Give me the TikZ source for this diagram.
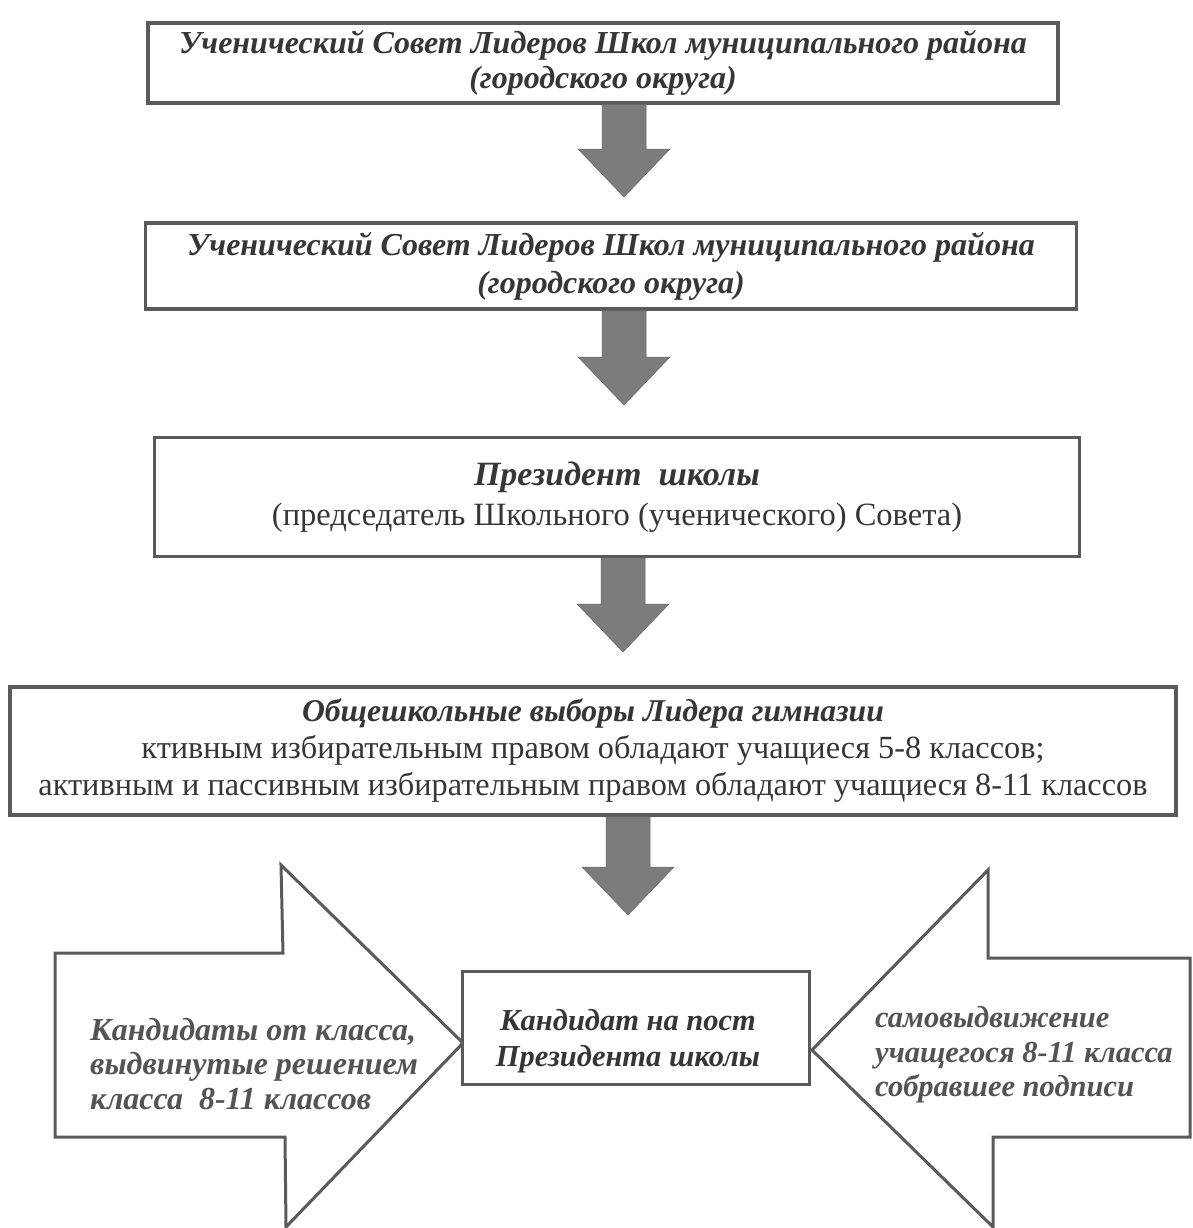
\documentclass[tikz,border=0pt]{standalone}
\usepackage{fontspec}
\setmainfont{Liberation Serif}
\usetikzlibrary{calc}

\definecolor{framegray}{HTML}{5A5A5A}
\definecolor{arrowgray}{HTML}{7C7C7C}
\definecolor{inkgray}{HTML}{363636}

\begin{document}
\begin{tikzpicture}[x=1pt,y=-1pt,
  box/.style={draw=framegray,line width=3.5pt,fill=white,text=inkgray,align=center,inner sep=0pt},
  down arrow/.style={fill=arrowgray,draw=arrowgray!85!black,line width=0.5pt,
    to path={let \p1=(\tikztostart), \p2=(\tikztotarget) in
      (\x2-22,\y1) -- (\x2+22,\y1) -- (\x2+22,\y2+48) -- (\x2+46,\y2+48)
      -- (\tikztotarget) -- (\x2-46,\y2+48) -- (\x2-22,\y2+48) -- cycle}},
  big arrow/.style={draw=framegray,line width=3pt,fill=white,line join=miter},
  side text/.style={text=inkgray!85,align=left,inner sep=0pt,
    font=\fontsize{32}{34.5}\selectfont\bfseries\itshape}]

  \useasboundingbox (0,0) rectangle (1192,1228);

  % levels
  \node[box,minimum width=910,minimum height=80,
    font=\fontsize{32}{35}\selectfont\bfseries\itshape] (sovet1) at (603,63)
    {Ученический Совет Лидеров Школ муниципального района\\(городского округа)};
  \node[box,minimum width=931,minimum height=86,
    font=\fontsize{32}{38}\selectfont\bfseries\itshape] (sovet2) at (611,266)
    {Ученический Совет Лидеров Школ муниципального района\\(городского округа)};
  \node[box,minimum width=925,minimum height=119,
    font=\fontsize{32.5}{40}\selectfont] (prez) at (617,497)
    {{\fontsize{34}{40}\selectfont\bfseries\itshape Президент\ \ школы}\\
     (председатель Школьного (ученического) Совета)};
  \node[box,minimum width=1166,minimum height=128,
    font=\fontsize{32.3}{37}\selectfont] (vybory) at (593,751)
    {{\fontsize{31.7}{37}\selectfont\bfseries\itshape Общешкольные выборы Лидера гимназии}\\
     ктивным избирательным правом обладают учащиеся 5-8 классов;\\
     активным и пассивным избирательным правом обладают учащиеся 8-11 классов};

  \coordinate (tip1) at (624,197);
  \coordinate (tip2) at (624,405);
  \coordinate (tip3) at (623,652);
  \coordinate (tip4) at (628,915);

  \path[down arrow] (sovet1.south -| tip1) to (tip1);
  \path[down arrow] (sovet2.south -| tip2) to (tip2);
  \path[down arrow] (prez.south -| tip3) to (tip3);
  \path[down arrow] (vybory.south -| tip4) to (tip4);

  % candidates
  \draw[big arrow] (55,953) -- (283,953) -- (281,865) -- (463,1043)
    -- (286,1227) -- (285,1137) -- (55,1137) -- cycle;
  \draw[big arrow] (1190,958) -- (988,958) -- (988,870) -- (812,1050)
    -- (993,1227) -- (993,1137) -- (1190,1137) -- cycle;

  \node[box,minimum width=347,minimum height=113] (kandidat) at (636,1028) {};
  \node[text=inkgray,align=center,inner sep=0pt,
    font=\fontsize{30.5}{36}\selectfont\bfseries\itshape] (kandidat text) at (628,1041)
    {Кандидат на пост\\Президента школы};

  \node[side text,anchor=west] (klass) at (90,1064)
    {Кандидаты от класса,\\выдвинутые решением\\класса\ \ 8-11 классов};
  \node[side text,anchor=west,font=\fontsize{30.5}{34.5}\selectfont\bfseries\itshape]
    (sam) at (875,1055)
    {самовыдвижение\\учащегося 8-11 класса\\собравшее подписи};

\end{tikzpicture}
\end{document}
